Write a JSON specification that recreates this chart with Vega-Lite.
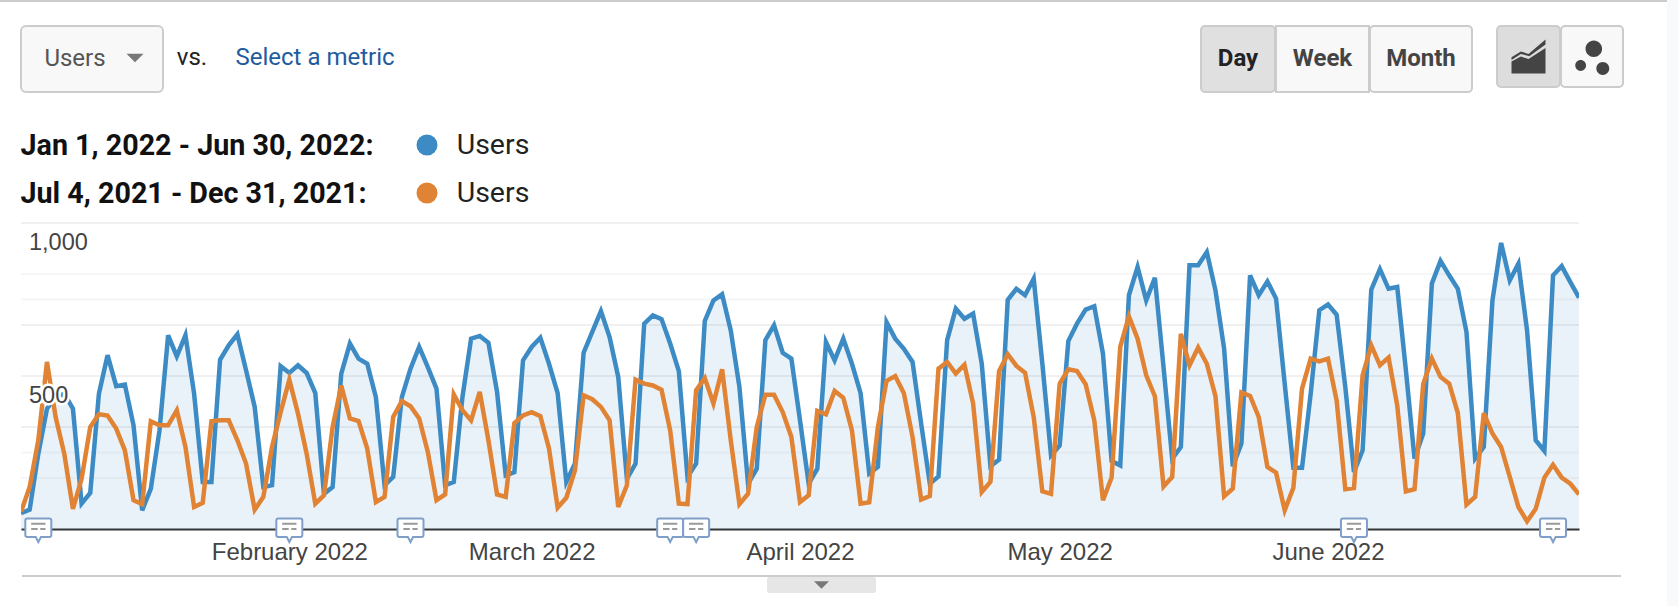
{
  "$schema": "https://vega.github.io/schema/vega-lite/v6.json",
  "background": "white",
  "padding": 0,
  "config": {
    "font": "Roboto",
    "view": {"stroke": null},
    "axis": {"title": null}
  },
  "datasets": {
    "legend": [
      {"period": "Jan 1, 2022 - Jun 30, 2022:", "metric": "Users"},
      {"period": "Jul 4, 2021 - Dec 31, 2021:", "metric": "Users"}
    ],
    "picker": [
      {"control": "Users"},
      {"control": "arrow"}
    ],
    "metric2": [
      {"control": "vs."},
      {"control": "Select a metric"}
    ],
    "buttons": [
      {"control": "Day"},
      {"control": "Week"},
      {"control": "Month"},
      {"control": "line"},
      {"control": "motion"},
      {"control": "collapse"}
    ],
    "gridLines": [
      {"tick": 1000, "weight": "major"},
      {"tick": 833.33, "weight": "minor"},
      {"tick": 750, "weight": "minor"},
      {"tick": 666.67, "weight": "major"},
      {"tick": 500, "weight": "major"},
      {"tick": 333.33, "weight": "major"},
      {"tick": 250, "weight": "minor"},
      {"tick": 166.67, "weight": "minor"}
    ],
    "yLabels": [
      {"date": "2022-01-01T00:00", "tick": 1000, "label": "1,000"},
      {"date": "2022-01-01T00:00", "tick": 500, "label": "500"}
    ],
    "annotations": [
      {"date": "2022-01-03T00:00"},
      {"date": "2022-02-01T00:00"},
      {"date": "2022-02-15T00:00"},
      {"date": "2022-03-17T00:00"},
      {"date": "2022-03-20T00:00"},
      {"date": "2022-06-04T00:00"},
      {"date": "2022-06-27T00:00"}
    ],
    "daily": [
      {"date":"2022-01-01T00:00","current":52,"previous":56},
      {"date":"2022-01-02T00:00","current":63,"previous":137},
      {"date":"2022-01-03T00:00","current":246,"previous":290},
      {"date":"2022-01-04T00:00","current":393,"previous":546},
      {"date":"2022-01-05T00:00","current":431,"previous":366},
      {"date":"2022-01-06T00:00","current":442,"previous":246},
      {"date":"2022-01-07T00:00","current":393,"previous":66},
      {"date":"2022-01-08T00:00","current":83,"previous":164},
      {"date":"2022-01-09T00:00","current":118,"previous":333},
      {"date":"2022-01-10T00:00","current":442,"previous":375},
      {"date":"2022-01-11T00:00","current":568,"previous":371},
      {"date":"2022-01-12T00:00","current":467,"previous":328},
      {"date":"2022-01-13T00:00","current":472,"previous":257},
      {"date":"2022-01-14T00:00","current":339,"previous":94},
      {"date":"2022-01-15T00:00","current":61,"previous":81},
      {"date":"2022-01-16T00:00","current":132,"previous":352},
      {"date":"2022-01-17T00:00","current":322,"previous":339},
      {"date":"2022-01-18T00:00","current":633,"previous":339},
      {"date":"2022-01-19T00:00","current":564,"previous":388},
      {"date":"2022-01-20T00:00","current":633,"previous":268},
      {"date":"2022-01-21T00:00","current":442,"previous":72},
      {"date":"2022-01-22T00:00","current":154,"previous":86},
      {"date":"2022-01-23T00:00","current":154,"previous":352},
      {"date":"2022-01-24T00:00","current":553,"previous":355},
      {"date":"2022-01-25T00:00","current":600,"previous":355},
      {"date":"2022-01-26T00:00","current":636,"previous":290},
      {"date":"2022-01-27T00:00","current":519,"previous":214},
      {"date":"2022-01-28T00:00","current":399,"previous":63},
      {"date":"2022-01-29T00:00","current":137,"previous":105},
      {"date":"2022-01-30T00:00","current":143,"previous":268},
      {"date":"2022-01-31T00:00","current":532,"previous":382},
      {"date":"2022-02-01T00:00","current":510,"previous":488},
      {"date":"2022-02-02T00:00","current":535,"previous":377},
      {"date":"2022-02-03T00:00","current":510,"previous":246},
      {"date":"2022-02-04T00:00","current":444,"previous":83},
      {"date":"2022-02-05T00:00","current":115,"previous":110},
      {"date":"2022-02-06T00:00","current":137,"previous":333},
      {"date":"2022-02-07T00:00","current":508,"previous":469},
      {"date":"2022-02-08T00:00","current":606,"previous":361},
      {"date":"2022-02-09T00:00","current":557,"previous":353},
      {"date":"2022-02-10T00:00","current":540,"previous":263},
      {"date":"2022-02-11T00:00","current":431,"previous":88},
      {"date":"2022-02-12T00:00","current":143,"previous":105},
      {"date":"2022-02-13T00:00","current":170,"previous":366},
      {"date":"2022-02-14T00:00","current":431,"previous":418},
      {"date":"2022-02-15T00:00","current":524,"previous":401},
      {"date":"2022-02-16T00:00","current":595,"previous":361},
      {"date":"2022-02-17T00:00","current":529,"previous":252},
      {"date":"2022-02-18T00:00","current":459,"previous":94},
      {"date":"2022-02-19T00:00","current":143,"previous":113},
      {"date":"2022-02-20T00:00","current":154,"previous":440},
      {"date":"2022-02-21T00:00","current":431,"previous":388},
      {"date":"2022-02-22T00:00","current":622,"previous":355},
      {"date":"2022-02-23T00:00","current":631,"previous":448},
      {"date":"2022-02-24T00:00","current":609,"previous":290},
      {"date":"2022-02-25T00:00","current":448,"previous":113},
      {"date":"2022-02-26T00:00","current":175,"previous":105},
      {"date":"2022-02-27T00:00","current":186,"previous":346},
      {"date":"2022-02-28T00:00","current":551,"previous":371},
      {"date":"2022-03-01T00:00","current":595,"previous":382},
      {"date":"2022-03-02T00:00","current":625,"previous":369},
      {"date":"2022-03-03T00:00","current":540,"previous":263},
      {"date":"2022-03-04T00:00","current":444,"previous":70},
      {"date":"2022-03-05T00:00","current":154,"previous":102},
      {"date":"2022-03-06T00:00","current":214,"previous":192},
      {"date":"2022-03-07T00:00","current":576,"previous":437},
      {"date":"2022-03-08T00:00","current":644,"previous":424},
      {"date":"2022-03-09T00:00","current":712,"previous":399},
      {"date":"2022-03-10T00:00","current":627,"previous":355},
      {"date":"2022-03-11T00:00","current":497,"previous":72},
      {"date":"2022-03-12T00:00","current":164,"previous":143},
      {"date":"2022-03-13T00:00","current":214,"previous":488},
      {"date":"2022-03-14T00:00","current":671,"previous":475},
      {"date":"2022-03-15T00:00","current":698,"previous":469},
      {"date":"2022-03-16T00:00","current":686,"previous":455},
      {"date":"2022-03-17T00:00","current":606,"previous":322},
      {"date":"2022-03-18T00:00","current":516,"previous":83},
      {"date":"2022-03-19T00:00","current":170,"previous":81},
      {"date":"2022-03-20T00:00","current":214,"previous":453},
      {"date":"2022-03-21T00:00","current":680,"previous":493},
      {"date":"2022-03-22T00:00","current":747,"previous":410},
      {"date":"2022-03-23T00:00","current":767,"previous":522},
      {"date":"2022-03-24T00:00","current":649,"previous":290},
      {"date":"2022-03-25T00:00","current":464,"previous":81},
      {"date":"2022-03-26T00:00","current":148,"previous":115},
      {"date":"2022-03-27T00:00","current":197,"previous":333},
      {"date":"2022-03-28T00:00","current":617,"previous":439},
      {"date":"2022-03-29T00:00","current":666,"previous":439},
      {"date":"2022-03-30T00:00","current":576,"previous":382},
      {"date":"2022-03-31T00:00","current":557,"previous":301},
      {"date":"2022-04-01T00:00","current":355,"previous":88},
      {"date":"2022-04-02T00:00","current":148,"previous":110},
      {"date":"2022-04-03T00:00","current":197,"previous":386},
      {"date":"2022-04-04T00:00","current":611,"previous":375},
      {"date":"2022-04-05T00:00","current":551,"previous":451},
      {"date":"2022-04-06T00:00","current":622,"previous":429},
      {"date":"2022-04-07T00:00","current":540,"previous":322},
      {"date":"2022-04-08T00:00","current":444,"previous":83},
      {"date":"2022-04-09T00:00","current":181,"previous":87},
      {"date":"2022-04-10T00:00","current":203,"previous":333},
      {"date":"2022-04-11T00:00","current":676,"previous":484},
      {"date":"2022-04-12T00:00","current":622,"previous":500},
      {"date":"2022-04-13T00:00","current":589,"previous":444},
      {"date":"2022-04-14T00:00","current":546,"previous":301},
      {"date":"2022-04-15T00:00","current":344,"previous":96},
      {"date":"2022-04-16T00:00","current":148,"previous":108},
      {"date":"2022-04-17T00:00","current":172,"previous":524},
      {"date":"2022-04-18T00:00","current":617,"previous":546},
      {"date":"2022-04-19T00:00","current":720,"previous":508},
      {"date":"2022-04-20T00:00","current":687,"previous":537},
      {"date":"2022-04-21T00:00","current":704,"previous":410},
      {"date":"2022-04-22T00:00","current":540,"previous":121},
      {"date":"2022-04-23T00:00","current":205,"previous":154},
      {"date":"2022-04-24T00:00","current":227,"previous":516},
      {"date":"2022-04-25T00:00","current":749,"previous":571},
      {"date":"2022-04-26T00:00","current":785,"previous":533},
      {"date":"2022-04-27T00:00","current":764,"previous":511},
      {"date":"2022-04-28T00:00","current":818,"previous":366},
      {"date":"2022-04-29T00:00","current":540,"previous":123},
      {"date":"2022-04-30T00:00","current":241,"previous":115},
      {"date":"2022-05-01T00:00","current":273,"previous":475},
      {"date":"2022-05-02T00:00","current":614,"previous":522},
      {"date":"2022-05-03T00:00","current":671,"previous":516},
      {"date":"2022-05-04T00:00","current":717,"previous":473},
      {"date":"2022-05-05T00:00","current":728,"previous":355},
      {"date":"2022-05-06T00:00","current":573,"previous":94},
      {"date":"2022-05-07T00:00","current":222,"previous":168},
      {"date":"2022-05-08T00:00","current":208,"previous":595},
      {"date":"2022-05-09T00:00","current":764,"previous":695},
      {"date":"2022-05-10T00:00","current":856,"previous":622},
      {"date":"2022-05-11T00:00","current":747,"previous":502},
      {"date":"2022-05-12T00:00","current":821,"previous":434},
      {"date":"2022-05-13T00:00","current":529,"previous":139},
      {"date":"2022-05-14T00:00","current":230,"previous":170},
      {"date":"2022-05-15T00:00","current":268,"previous":638},
      {"date":"2022-05-16T00:00","current":862,"previous":535},
      {"date":"2022-05-17T00:00","current":862,"previous":593},
      {"date":"2022-05-18T00:00","current":905,"previous":540},
      {"date":"2022-05-19T00:00","current":780,"previous":434},
      {"date":"2022-05-20T00:00","current":589,"previous":107},
      {"date":"2022-05-21T00:00","current":205,"previous":132},
      {"date":"2022-05-22T00:00","current":279,"previous":446},
      {"date":"2022-05-23T00:00","current":829,"previous":435},
      {"date":"2022-05-24T00:00","current":764,"previous":366},
      {"date":"2022-05-25T00:00","current":809,"previous":203},
      {"date":"2022-05-26T00:00","current":753,"previous":184},
      {"date":"2022-05-27T00:00","current":475,"previous":61},
      {"date":"2022-05-28T00:00","current":200,"previous":135},
      {"date":"2022-05-29T00:00","current":200,"previous":459},
      {"date":"2022-05-30T00:00","current":442,"previous":557},
      {"date":"2022-05-31T00:00","current":715,"previous":548},
      {"date":"2022-06-01T00:00","current":734,"previous":557},
      {"date":"2022-06-02T00:00","current":700,"previous":420},
      {"date":"2022-06-03T00:00","current":464,"previous":130},
      {"date":"2022-06-04T00:00","current":186,"previous":134},
      {"date":"2022-06-05T00:00","current":257,"previous":502},
      {"date":"2022-06-06T00:00","current":782,"previous":600},
      {"date":"2022-06-07T00:00","current":849,"previous":535},
      {"date":"2022-06-08T00:00","current":785,"previous":560},
      {"date":"2022-06-09T00:00","current":791,"previous":404},
      {"date":"2022-06-10T00:00","current":519,"previous":123},
      {"date":"2022-06-11T00:00","current":230,"previous":130},
      {"date":"2022-06-12T00:00","current":312,"previous":473},
      {"date":"2022-06-13T00:00","current":802,"previous":557},
      {"date":"2022-06-14T00:00","current":876,"previous":497},
      {"date":"2022-06-15T00:00","current":829,"previous":475},
      {"date":"2022-06-16T00:00","current":785,"previous":379},
      {"date":"2022-06-17T00:00","current":644,"previous":80},
      {"date":"2022-06-18T00:00","current":230,"previous":105},
      {"date":"2022-06-19T00:00","current":268,"previous":379},
      {"date":"2022-06-20T00:00","current":747,"previous":312},
      {"date":"2022-06-21T00:00","current":935,"previous":268},
      {"date":"2022-06-22T00:00","current":813,"previous":170},
      {"date":"2022-06-23T00:00","current":867,"previous":72},
      {"date":"2022-06-24T00:00","current":649,"previous":25},
      {"date":"2022-06-25T00:00","current":290,"previous":66},
      {"date":"2022-06-26T00:00","current":255,"previous":168},
      {"date":"2022-06-27T00:00","current":829,"previous":210},
      {"date":"2022-06-28T00:00","current":859,"previous":168},
      {"date":"2022-06-29T00:00","current":807,"previous":148},
      {"date":"2022-06-30T00:00","current":756,"previous":113}
    ]
  },
  "spacing": 0,
  "resolve": {"scale": {"color": "independent"}},
  "hconcat": [
    {
      "spacing": 0,
      "resolve": {"scale": {"color": "independent"}},
      "vconcat": [
        {"width": 1667, "height": 2, "view": {"fill": "#cccccc"}, "data": {"values": []}, "mark": "point"},
        {"width": 10, "height": 23, "data": {"values": []}, "mark": "point"},
        {
          "spacing": 0,
          "resolve": {"scale": {"color": "independent"}},
          "hconcat": [
            {"width": 20, "height": 66, "data": {"values": []}, "mark": "point"},
            {
              "width": 142,
              "height": 66,
              "view": {"fill": "#f8f8f8", "stroke": "#cccccc", "strokeWidth": 2, "cornerRadius": 5},
              "data": {"name": "picker"},
              "encoding": {
                "x": {
                  "field": "control",
                  "type": "nominal",
                  "axis": null,
                  "scale": {"domain": ["Users", "arrow"], "range": [54, 114], "padding": 0}
                }
              },
              "layer": [
                {
                  "transform": [{"filter": "datum.control == 'Users'"}],
                  "mark": {"type": "text", "fontSize": 24, "color": "#555555"},
                  "encoding": {"text": {"field": "control"}}
                },
                {
                  "transform": [{"filter": "datum.control == 'arrow'"}],
                  "mark": {"type": "point", "shape": "M-1,-0.5 H1 L0,0.5 Z", "filled": true, "size": 289, "color": "#777777", "opacity": 1, "yOffset": -1}
                }
              ]
            },
            {
              "width": 247,
              "height": 66,
              "data": {"name": "metric2"},
              "mark": {"type": "text", "fontSize": 24, "dy": -1},
              "encoding": {
                "x": {
                  "field": "control",
                  "type": "nominal",
                  "axis": null,
                  "scale": {"domain": ["vs.", "Select a metric"], "range": [28, 151], "padding": 0}
                },
                "text": {"field": "control"},
                "color": {
                  "field": "control",
                  "type": "nominal",
                  "legend": null,
                  "scale": {"domain": ["vs.", "Select a metric"], "range": ["#222222", "#1f5b9e"]}
                }
              }
            },
            {"width": 789, "height": 66, "data": {"values": []}, "mark": "point"},
            {
              "spacing": -2,
              "hconcat": [
                {
                  "width": 74,
                  "height": 66,
                  "view": {"fill": "#e0e0e0", "stroke": "#cccccc", "strokeWidth": 2, "cornerRadius": 4},
                  "data": {"name": "buttons"},
                  "transform": [{"filter": "datum.control == 'Day'"}],
                  "mark": {"type": "text", "fontSize": 24, "fontWeight": "bold", "color": "#222222"},
                  "encoding": {"text": {"field": "control"}}
                },
                {
                  "width": 93,
                  "height": 66,
                  "view": {"fill": "#f8f8f8", "stroke": "#cccccc", "strokeWidth": 2},
                  "data": {"name": "buttons"},
                  "transform": [{"filter": "datum.control == 'Week'"}],
                  "mark": {"type": "text", "fontSize": 24, "fontWeight": "bold", "color": "#444444"},
                  "encoding": {"text": {"field": "control"}}
                },
                {
                  "width": 102,
                  "height": 66,
                  "view": {"fill": "#f8f8f8", "stroke": "#cccccc", "strokeWidth": 2, "cornerRadius": 4},
                  "data": {"name": "buttons"},
                  "transform": [{"filter": "datum.control == 'Month'"}],
                  "mark": {"type": "text", "fontSize": 24, "fontWeight": "bold", "color": "#444444"},
                  "encoding": {"text": {"field": "control"}}
                }
              ]
            },
            {"width": 23, "height": 61, "data": {"values": []}, "mark": "point"},
            {
              "spacing": -2,
              "hconcat": [
                {
                  "width": 63,
                  "height": 61,
                  "view": {"fill": "#dddddd", "stroke": "#cccccc", "strokeWidth": 2, "cornerRadius": 4},
                  "data": {"name": "buttons"},
                  "transform": [{"filter": "datum.control == 'line'"}],
                  "mark": {
                    "type": "point",
                    "filled": true,
                    "opacity": 1,
                    "color": "#444444",
                    "size": 1156,
                    "shape": "M-1,1 V0.3 L-0.45,0 L0,0.15 L1,-0.5 V1 Z M-1,0.05 L-0.45,-0.3 L0,-0.15 L1,-1 V-0.7 L0.05,-0.02 L-0.45,-0.15 L-1,0.2 Z"
                  }
                },
                {
                  "width": 62,
                  "height": 61,
                  "view": {"fill": "#f8f8f8", "stroke": "#cccccc", "strokeWidth": 2, "cornerRadius": 4},
                  "data": {"name": "buttons"},
                  "transform": [{"filter": "datum.control == 'motion'"}],
                  "mark": {
                    "type": "point",
                    "filled": true,
                    "opacity": 1,
                    "color": "#444444",
                    "size": 1296,
                    "shape": "M-0.36,-0.43a0.46,0.46 0 1,0 0.92,0a0.46,0.46 0 1,0 -0.92,0Z M-0.93,0.5a0.3,0.3 0 1,0 0.6,0a0.3,0.3 0 1,0 -0.6,0Z M0.24,0.67a0.36,0.36 0 1,0 0.72,0a0.36,0.36 0 1,0 -0.72,0Z"
                  }
                }
              ]
            }
          ]
        },
        {"width": 10, "height": 28, "data": {"values": []}, "mark": "point"},
        {
          "spacing": 0,
          "resolve": {"scale": {"color": "independent"}},
          "hconcat": [
            {"width": 20, "height": 96, "data": {"values": []}, "mark": "point"},
            {
              "width": 44,
              "height": 96,
              "data": {"name": "legend"},
              "mark": {"type": "circle", "opacity": 1, "size": 440},
              "encoding": {
                "y": {
                  "field": "period",
                  "type": "nominal",
                  "sort": null,
                  "axis": {
                    "domain": false,
                    "ticks": false,
                    "labelAlign": "left",
                    "labelPadding": 385,
                    "labelFontSize": 28.7,
                    "labelFontWeight": "bold",
                    "labelColor": "#111111",
                    "labelLimit": 400
                  }
                },
                "color": {
                  "field": "period",
                  "type": "nominal",
                  "legend": null,
                  "scale": {
                    "domain": ["Jan 1, 2022 - Jun 30, 2022:", "Jul 4, 2021 - Dec 31, 2021:"],
                    "range": ["#3d8bc4", "#e08335"]
                  }
                }
              }
            },
            {
              "width": 88,
              "height": 96,
              "data": {"name": "legend"},
              "mark": {"type": "text", "fontSize": 28.5, "color": "#222222"},
              "encoding": {
                "y": {"field": "period", "type": "nominal", "sort": null, "axis": null},
                "text": {"field": "metric"}
              }
            }
          ]
        },
        {"width": 10, "height": 5, "data": {"values": []}, "mark": "point"},
        {
          "spacing": 0,
          "resolve": {"scale": {"color": "independent"}},
          "hconcat": [
            {"width": 20, "height": 306, "data": {"values": []}, "mark": "point"},
            {
              "width": 1558,
              "height": 306,
              "encoding": {
                "x": {
                  "field": "date",
                  "type": "temporal",
                  "scale": {"domain": [{"year": 2022, "month": 1, "date": 1}, {"year": 2022, "month": 6, "date": 30}]},
                  "axis": {
                    "values": [
                      {"year": 2022, "month": 2, "date": 1},
                      {"year": 2022, "month": 3, "date": 1},
                      {"year": 2022, "month": 4, "date": 1},
                      {"year": 2022, "month": 5, "date": 1},
                      {"year": 2022, "month": 6, "date": 1}
                    ],
                    "format": "%B %Y",
                    "grid": false,
                    "ticks": false,
                    "domainColor": "#333333",
                    "domainWidth": 2,
                    "labelFont": "Liberation Sans",
                    "labelFontSize": 24,
                    "labelColor": "#444444",
                    "labelPadding": 11,
                    "labelAngle": 0,
                    "labelOverlap": false,
                    "zindex": 0
                  }
                }
              },
              "layer": [
                {
                  "data": {"name": "gridLines"},
                  "mark": {"type": "rule", "strokeWidth": 2},
                  "encoding": {
                    "x": null,
                    "y": {
                      "field": "tick",
                      "type": "quantitative",
                      "scale": {"domain": [0, 1000], "nice": false},
                      "axis": null
                    },
                    "color": {
                      "field": "weight",
                      "type": "nominal",
                      "legend": null,
                      "scale": {"domain": ["major", "minor"], "range": ["#f0f0f0", "#f6f6f6"]}
                    }
                  }
                },
                {
                  "data": {"name": "daily"},
                  "mark": {"type": "area", "color": "#3d8bc4", "opacity": 0.11, "clip": true},
                  "encoding": {"y": {"field": "current", "type": "quantitative", "axis": null}}
                },
                {
                  "data": {"name": "daily"},
                  "mark": {"type": "line", "color": "#3d8bc4", "strokeWidth": 4.5, "clip": true, "strokeJoin": "miter"},
                  "encoding": {"y": {"field": "current", "type": "quantitative", "axis": null}}
                },
                {
                  "data": {"name": "daily"},
                  "mark": {"type": "line", "color": "#e08335", "strokeWidth": 4.5, "clip": true, "strokeJoin": "miter"},
                  "encoding": {"y": {"field": "previous", "type": "quantitative", "axis": null}}
                },
                {
                  "data": {"name": "annotations"},
                  "mark": {
                    "type": "point",
                    "filled": true,
                    "opacity": 1,
                    "fill": "#ffffff",
                    "stroke": "#7f9fc8",
                    "strokeWidth": 2,
                    "size": 676,
                    "shape": "M-0.85,-0.8 H0.85 Q1,-0.8 1,-0.65 V0.47 Q1,0.62 0.85,0.62 H0.2 L0,1 L-0.2,0.62 H-0.85 Q-1,0.62 -1,0.47 V-0.65 Q-1,-0.8 -0.85,-0.8 Z"
                  },
                  "encoding": {"y": {"datum": 0, "type": "quantitative", "axis": null}}
                },
                {
                  "data": {"name": "annotations"},
                  "mark": {
                    "type": "point",
                    "filled": false,
                    "opacity": 1,
                    "stroke": "#9a9a9a",
                    "strokeWidth": 2,
                    "size": 676,
                    "shape": "M-0.55,-0.4 H0.55 M-0.55,0 H-0.05 M0.15,0 H0.55"
                  },
                  "encoding": {"y": {"datum": 0, "type": "quantitative", "axis": null}}
                },
                {
                  "data": {"name": "yLabels"},
                  "mark": {"type": "text", "align": "left", "dx": 8, "dy": 20, "font": "Liberation Sans", "fontSize": 23.5, "color": "#ffffff", "stroke": "#ffffff", "strokeWidth": 5},
                  "encoding": {"y": {"field": "tick", "type": "quantitative", "axis": null}, "text": {"field": "label"}}
                },
                {
                  "data": {"name": "yLabels"},
                  "mark": {"type": "text", "align": "left", "dx": 8, "dy": 20, "font": "Liberation Sans", "fontSize": 23.5, "color": "#444444"},
                  "encoding": {"y": {"field": "tick", "type": "quantitative", "axis": null}, "text": {"field": "label"}}
                }
              ]
            }
          ]
        },
        {"width": 10, "height": 11, "data": {"values": []}, "mark": "point"},
        {
          "spacing": 0,
          "hconcat": [
            {"width": 22, "height": 2, "data": {"values": []}, "mark": "point"},
            {"width": 1599, "height": 2, "view": {"fill": "#cccccc"}, "data": {"values": []}, "mark": "point"}
          ]
        },
        {
          "spacing": 0,
          "hconcat": [
            {"width": 767, "height": 16, "data": {"values": []}, "mark": "point"},
            {
              "width": 109,
              "height": 16,
              "view": {"fill": "#e6e6e6", "cornerRadius": 2},
              "data": {"name": "buttons"},
              "transform": [{"filter": "datum.control == 'collapse'"}],
              "mark": {"type": "point", "shape": "M-1,-0.5 H1 L0,0.5 Z", "filled": true, "opacity": 1, "size": 225, "color": "#777777"}
            }
          ]
        }
      ]
    },
    {"width": 11, "height": 606, "view": {"fill": "#f8f9fb"}, "data": {"values": []}, "mark": "point"}
  ]
}
